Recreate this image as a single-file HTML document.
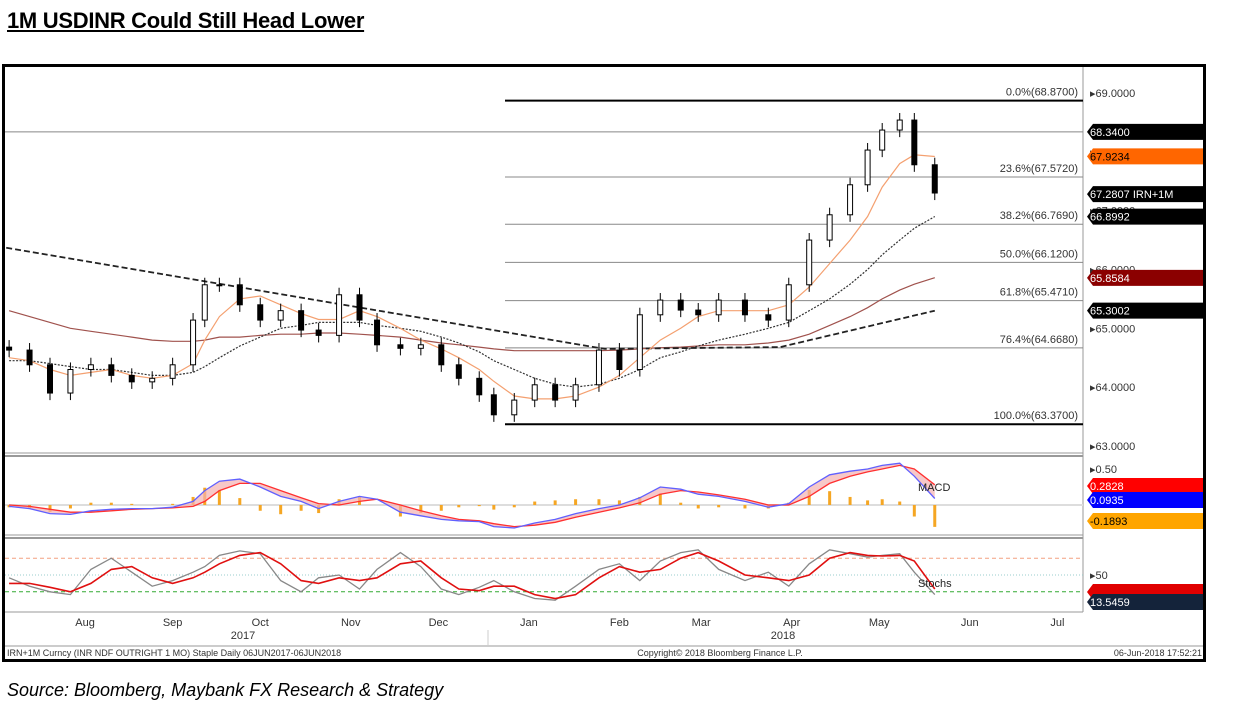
<!DOCTYPE html>
<html><head><meta charset="utf-8">
<style>
body{margin:0;background:#fff;width:1234px;height:705px;overflow:hidden;font-family:"Liberation Sans",sans-serif}
#title{position:absolute;left:7px;top:8px;font-size:22px;font-weight:bold;text-decoration:underline;color:#000;letter-spacing:-0.3px}
#source{position:absolute;left:7px;top:680px;font-size:18px;font-style:italic;color:#000}
svg{position:absolute;left:0;top:0}
</style></head><body>
<div id="title">1M USDINR Could Still Head Lower</div>
<svg id="chart" width="1234" height="705"></svg>
<div id="source">Source: Bloomberg, Maybank FX Research &amp; Strategy</div>
<script>
const days=[-164,-157,-150,-143,-136,-129,-122,-115,-108,-101,-97,-92,-85,-78,-71,-64,-58,-51,-44,-38,-30,-23,-16,-10,-3,2,9,16,23,30,38,45,52,59,66,72,79,88,96,103,110,117,124,130,135,141,146,153];
const closes=[64.63,64.38,63.9,64.3,64.38,64.2,64.09,64.15,64.38,65.14,65.74,65.74,65.4,65.14,65.3,64.97,64.88,65.57,65.14,64.72,64.66,64.72,64.38,64.15,63.87,63.53,63.78,64.04,63.78,64.04,64.63,64.3,65.23,65.48,65.31,65.23,65.48,65.23,65.14,65.74,66.5,66.93,67.44,68.03,68.37,68.54,67.78,67.3];
const maFast=[64.5,64.45,64.3,64.2,64.25,64.3,64.2,64.15,64.2,64.4,64.8,65.2,65.5,65.55,65.4,65.25,65.15,65.15,65.3,65.2,65.0,64.8,64.65,64.5,64.3,64.1,63.85,63.8,63.8,63.85,64.0,64.2,64.5,64.8,65.0,65.2,65.3,65.3,65.3,65.4,65.7,66.1,66.5,66.9,67.4,67.8,67.95,67.92];
const maMid=[64.45,64.45,64.4,64.35,64.3,64.3,64.25,64.2,64.2,64.25,64.35,64.5,64.7,64.85,65.0,65.05,65.1,65.1,65.1,65.05,65.0,64.95,64.85,64.75,64.6,64.45,64.3,64.15,64.05,64.0,64.05,64.15,64.3,64.5,64.6,64.7,64.8,64.9,65.0,65.1,65.3,65.5,65.75,66.0,66.25,66.5,66.7,66.9];
const maSlow=[65.3,65.2,65.1,65.0,64.95,64.9,64.85,64.8,64.78,64.78,64.8,64.85,64.85,64.88,64.9,64.9,64.92,64.92,64.9,64.88,64.85,64.8,64.75,64.72,64.68,64.65,64.62,64.62,64.62,64.62,64.62,64.63,64.65,64.67,64.68,64.7,64.72,64.72,64.75,64.8,64.9,65.05,65.2,65.35,65.5,65.65,65.75,65.86];
const trendDays=[-165,40,100,153];
const trendVals=[66.37,64.65,64.68,65.3];
const macd=[-0.02,-0.05,-0.12,-0.13,-0.08,-0.06,-0.05,-0.05,-0.03,0.05,0.2,0.33,0.36,0.25,0.12,0.05,-0.05,0.05,0.12,0.08,-0.1,-0.15,-0.2,-0.22,-0.23,-0.3,-0.32,-0.25,-0.2,-0.12,-0.05,0.0,0.1,0.25,0.22,0.15,0.12,0.05,-0.03,0.02,0.25,0.42,0.47,0.5,0.55,0.58,0.4,0.09];
const signal=[0.0,-0.02,-0.06,-0.1,-0.1,-0.08,-0.06,-0.05,-0.04,-0.02,0.05,0.2,0.3,0.3,0.2,0.1,0.02,0.0,0.05,0.08,0.0,-0.08,-0.15,-0.2,-0.22,-0.26,-0.3,-0.28,-0.24,-0.17,-0.1,-0.04,0.03,0.15,0.2,0.18,0.14,0.08,0.0,0.0,0.12,0.3,0.4,0.46,0.5,0.55,0.5,0.28];
const stochK=[45,30,20,15,60,80,55,30,40,55,65,85,93,88,40,20,45,50,25,60,90,65,25,15,28,40,20,8,5,30,60,70,40,75,90,95,60,40,55,30,70,95,88,82,85,88,55,15];
const stochD=[35,35,28,20,35,60,65,45,35,45,55,70,85,90,70,40,35,45,40,45,70,75,45,25,22,30,30,15,8,15,45,65,55,60,80,90,75,50,45,40,50,80,90,85,84,85,75,25];
const fibPct=["0.0%","23.6%","38.2%","50.0%","61.8%","76.4%","100.0%"];
const fibVals=[68.87,67.572,66.769,66.12,65.471,64.668,63.37];
const priceTicks=[69,68,67,66,65,64,63];
const months=["Aug","Sep","Oct","Nov","Dec","Jan","Feb","Mar","Apr","May","Jun","Jul"];
const monthDays=[-138,-108,-78,-47,-17,14,45,73,104,134,165,195];
const tags=[["68.3400",68.34,"#000","#fff"],["67.9234",67.9234,"#ff6600","#000"],["67.2807 IRN+1M",67.2807,"#000","#fff"],["66.8992",66.8992,"#000","#fff"],["65.8584",65.8584,"#8b0000","#fff"],["65.3002",65.3002,"#000","#fff"]];
const macdTags=[["0.2828",0.2828,"#ff0000","#fff"],["0.0935",0.0935,"#0000ff","#fff"],["-0.1893",-0.1893,"#ffa500","#000"]];

const S=document.getElementById('chart');const NS='http://www.w3.org/2000/svg';
function el(t,a,txt){const e=document.createElementNS(NS,t);for(const k in a)e.setAttribute(k,a[k]);if(txt!==undefined)e.textContent=txt;S.appendChild(e);return e;}
const X=d=>488+d*2.92;
const Y=v=>93+(69-v)*58.83;
const YM=v=>505-v*72;
const YS=v=>603-v*0.56;
const L=5,R=1083;
let e=el('rect',{x:3.5,y:65.5,width:1201,height:595,fill:'none',stroke:'#000','stroke-width':3});

el('line',{x1:R,y1:67,x2:R,y2:612,stroke:'#999'});
[453,456,535,538,612].forEach(y=>el('line',{x1:5,y1:y,x2:R,y2:y,stroke:'#999','stroke-width':y==456||y==538?2:1}));
el('line',{x1:488,y1:630,x2:488,y2:645,stroke:'#ccc'});
el('line',{x1:5,y1:646,x2:1203,y2:646,stroke:'#999'});
priceTicks.forEach(v=>{e=el('text',{x:1090,y:Y(v)+4,'font-size':11,fill:'#333'},'▸'+v.toFixed(4));
});
el('line',{x1:L,y1:Y(68.34),x2:R,y2:Y(68.34),stroke:'#888'});
fibVals.forEach((v,i)=>{const th=(i==0||i==6);
e=el('line',{x1:505,y1:Y(v),x2:R,y2:Y(v),stroke:th?'#000':'#888','stroke-width':th?2:1});

e=el('text',{x:1078,y:Y(v)-5,'font-size':11,fill:'#333','text-anchor':'end'},fibPct[i]+'('+v.toFixed(4)+')');
});
function line(xs,ys,st,name){const p=xs.map((x,i)=>x.toFixed(1)+','+ys[i].toFixed(1)).join(' ');const l=el('polyline',Object.assign({points:p,fill:'none'},st));return l;}
const xs=days.map(X);
line(xs,maSlow.map(Y),{stroke:'#a0524d','stroke-width':1.2},'ma-200-line');
line(xs,maMid.map(Y),{stroke:'#333','stroke-width':1.2,'stroke-dasharray':'2,1.5'},'ma-100-line');
line(trendDays.map(X),trendVals.map(Y),{stroke:'#222','stroke-width':1.8,'stroke-dasharray':'6,3'},'trend-line');
line(xs,maFast.map(Y),{stroke:'#f4a070','stroke-width':1.2},'ma-50-line');
closes.forEach((c,i)=>{const o=i?closes[i-1]:c+0.05;const x=X(days[i]);const hi=Math.max(o,c)+0.12,lo=Math.min(o,c)-0.12;
el('line',{x1:x,y1:Y(hi),x2:x,y2:Y(lo),stroke:'#000'});
const r=el('rect',{x:x-2.5,y:Y(Math.max(o,c)),width:5,height:Math.max(1,Math.abs(Y(o)-Y(c))),fill:c>=o?'#fff':'#000',stroke:'#000'});
});
function tag(t,y,bg,fg,nm){const p=el('polygon',{points:`1087,${y} 1093,${y-8} 1203,${y-8} 1203,${y+8} 1093,${y+8}`,fill:bg});

el('text',{x:1090,y:y+4,'font-size':11,fill:fg},t);}
tags.forEach(t=>tag(t[0],Y(t[1]),t[2],t[3],'price-tag'));
el('line',{x1:L,y1:YM(0),x2:R,y2:YM(0),stroke:'#ddd','stroke-width':2});
macd.forEach((m,i)=>{const d=(m-signal[i])*1.6;const x=X(days[i]);
const b=el('rect',{x:x-1.5,y:Math.min(YM(0),YM(d)),width:3,height:Math.abs(YM(d)-YM(0)),fill:'#f5a623'});
});
const fp=xs.map((x,i)=>x+','+YM(macd[i])).join(' ')+' '+xs.slice().reverse().map((x,j)=>x+','+YM(signal[signal.length-1-j])).join(' ');
el('polygon',{points:fp,fill:'#f4b0b0',opacity:0.7});
line(xs,signal.map(YM),{stroke:'#ff3030','stroke-width':1.3},'macd-signal-line');
line(xs,macd.map(YM),{stroke:'#6060ff','stroke-width':1.3},'macd-line');
el('text',{x:1090,y:YM(0.5)+4,'font-size':11,fill:'#333'},'▸0.50');
el('text',{x:918,y:491,'font-size':11,fill:'#222'},'MACD');
macdTags.forEach((t,i)=>tag(t[0],[486,500,521][i],t[2],t[3],'macd-tag'));
el('line',{x1:L,y1:YS(80),x2:R,y2:YS(80),stroke:'#f4a080','stroke-dasharray':'4,3'});
el('line',{x1:L,y1:YS(50),x2:R,y2:YS(50),stroke:'#9cc','stroke-dasharray':'1,2'});
el('line',{x1:L,y1:YS(20),x2:R,y2:YS(20),stroke:'#3a3','stroke-dasharray':'4,3'});
line(xs,stochK.map(YS),{stroke:'#888','stroke-width':1.3},'stoch-k-line');
line(xs,stochD.map(YS),{stroke:'#e01010','stroke-width':1.6},'stoch-d-line');
el('text',{x:1090,y:YS(50)+4,'font-size':11,fill:'#333'},'▸50');
el('text',{x:918,y:587,'font-size':11,fill:'#222'},'Stochs');
tag('',592,'#e00000','#fff','stoch-tag');tag('13.5459',602,'#14233a','#fff','stoch-tag');
months.forEach((m,i)=>{const t=el('text',{x:X(monthDays[i]),y:626,'font-size':11,fill:'#333','text-anchor':'middle'},m);
});
el('text',{x:243,y:639,'font-size':11,fill:'#333','text-anchor':'middle'},'2017');
el('text',{x:783,y:639,'font-size':11,fill:'#333','text-anchor':'middle'},'2018');
el('text',{x:7,y:656,'font-size':9,fill:'#333'},'IRN+1M Curncy (INR NDF OUTRIGHT   1 MO) Staple  Daily 06JUN2017-06JUN2018');
el('text',{x:720,y:656,'font-size':9,fill:'#333','text-anchor':'middle'},'Copyright© 2018 Bloomberg Finance L.P.');
el('text',{x:1202,y:656,'font-size':9,fill:'#333','text-anchor':'end'},'06-Jun-2018 17:52:21');
</script>
</body></html>
